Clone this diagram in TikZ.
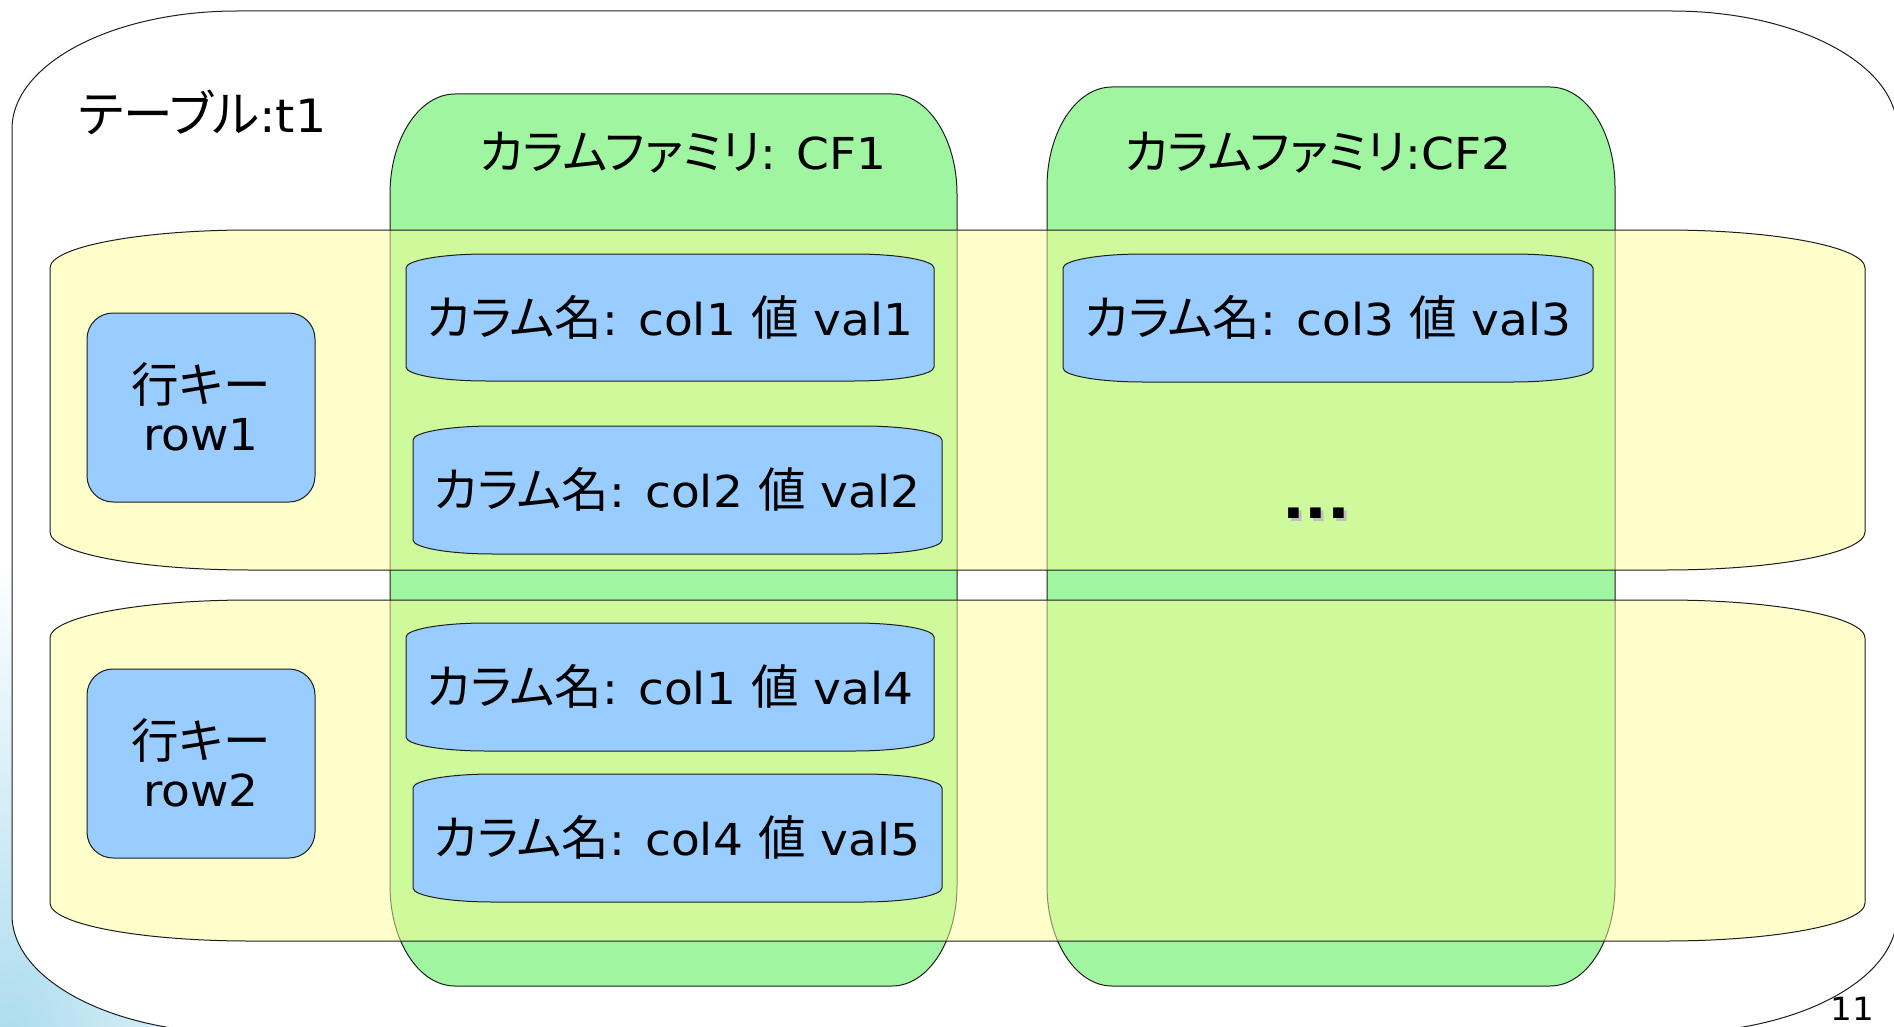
\documentclass[tikz,border=0pt]{standalone}
\usepackage{fontspec}
\setmainfont[FakeStretch=1.07]{DejaVu Sans}
\newfontfamily\jp[Scale=1.08,RawFeature=+palt]{Noto Sans CJK JP}
\definecolor{famgreen}{RGB}{160,245,160}
\definecolor{rowyellow}{RGB}{255,255,153}
\definecolor{cellblue}{RGB}{153,204,255}
\definecolor{haze}{RGB}{172,220,238}
\definecolor{edge}{RGB}{30,30,30}
% closed path with elliptical corners: x1,y1,x2,y2,rx,ry
\newcommand\ovalpath[6]{(#1,#2+#6)
  arc[start angle=180,end angle=270,x radius=#5,y radius=#6] -- (#3-#5,#2)
  arc[start angle=270,end angle=360,x radius=#5,y radius=#6] -- (#3,#4-#6)
  arc[start angle=0,end angle=90,x radius=#5,y radius=#6] -- (#1+#5,#4)
  arc[start angle=90,end angle=180,x radius=#5,y radius=#6] -- cycle}
\begin{document}
\begin{tikzpicture}[x=1pt,y=-1pt,
  outline/.style={draw=edge,line width=1pt},
  family/.style={outline,fill=famgreen},
  rowband/.style={outline,fill=rowyellow,fill opacity=0.5},
  cell/.style={outline,fill=cellblue},
  txt/.style={inner sep=0pt,font=\fontsize{44}{48}\selectfont},
  keytxt/.style={txt,align=center}]
\useasboundingbox (0,0) rectangle (1894,1027);
\clip (0,0) rectangle (1894,1027);
\fill[white] (0,0) rectangle (1894,1027);

% soft blue backdrop in the lower left corner
\begin{scope}
  \clip (0,480) rectangle (420,1027);
  \shade[inner color=haze,outer color=white] (10,1040) ellipse [x radius=300, y radius=480];
\end{scope}

% table outline
\draw[outline,fill=white] \ovalpath{12}{11}{1897}{1033}{225}{118};

% column families
\draw[family] \ovalpath{390}{94}{957}{986}{65}{100};
\draw[family] \ovalpath{1047}{87}{1615}{986}{65}{100};

% rows
\draw[rowband] \ovalpath{50}{230}{1865}{570}{200}{38};
\draw[rowband] \ovalpath{50}{600}{1865}{941}{200}{38};

% row keys
\draw[cell,rounded corners=26] (87,313) rectangle (315,502);
\draw[cell,rounded corners=26] (87,669) rectangle (315,858);

% cells
\draw[cell] \ovalpath{406}{254}{934}{381}{80}{14};
\draw[cell] \ovalpath{413}{426}{942}{554}{80}{14};
\draw[cell] \ovalpath{1063}{254}{1593}{382}{80}{14};
\draw[cell] \ovalpath{406}{623}{934}{751}{80}{14};
\draw[cell] \ovalpath{413}{774}{942}{902}{80}{14};

% labels
\node[txt,anchor=base west,font=\fontsize{46}{50}\selectfont] (tname) at (78,133) {{\jp テーブル}:t1};
\node[txt,anchor=base] (cf1) at (683,170) {{\jp カラムファミリ}: CF1};
\node[txt,anchor=base] (cf2) at (1318,170) {{\jp カラムファミリ}:CF2};

\node[keytxt] (key1) at (201,407) {{\jp 行キー}\\row1};
\node[keytxt] (key2) at (201,763) {{\jp 行キー}\\row2};

\node[txt,anchor=base] (c1) at (670,335) {{\jp カラム名}: col1 {\jp 値} val1};
\node[txt,anchor=base] (c2) at (677,507) {{\jp カラム名}: col2 {\jp 値} val2};
\node[txt,anchor=base] (c3) at (1328,335) {{\jp カラム名}: col3 {\jp 値} val3};
\node[txt,anchor=base] (c4) at (670,704) {{\jp カラム名}: col1 {\jp 値} val4};
\node[txt,anchor=base] (c5) at (677,855) {{\jp カラム名}: col4 {\jp 値} val5};

% ellipsis with its drop shadow
\node[inner sep=0pt,anchor=base west,text=black!25,font=\fontsize{56}{60}\selectfont\bfseries] (moreshadow) at (1285,521) {...};
\node[inner sep=0pt,anchor=base west,font=\fontsize{56}{60}\selectfont\bfseries] (more) at (1282,518) {...};

% slide number
\node[inner sep=0pt,anchor=base,font=\fontsize{32}{36}\selectfont] (pageno) at (1852,1020) {11};
\end{tikzpicture}
\end{document}
